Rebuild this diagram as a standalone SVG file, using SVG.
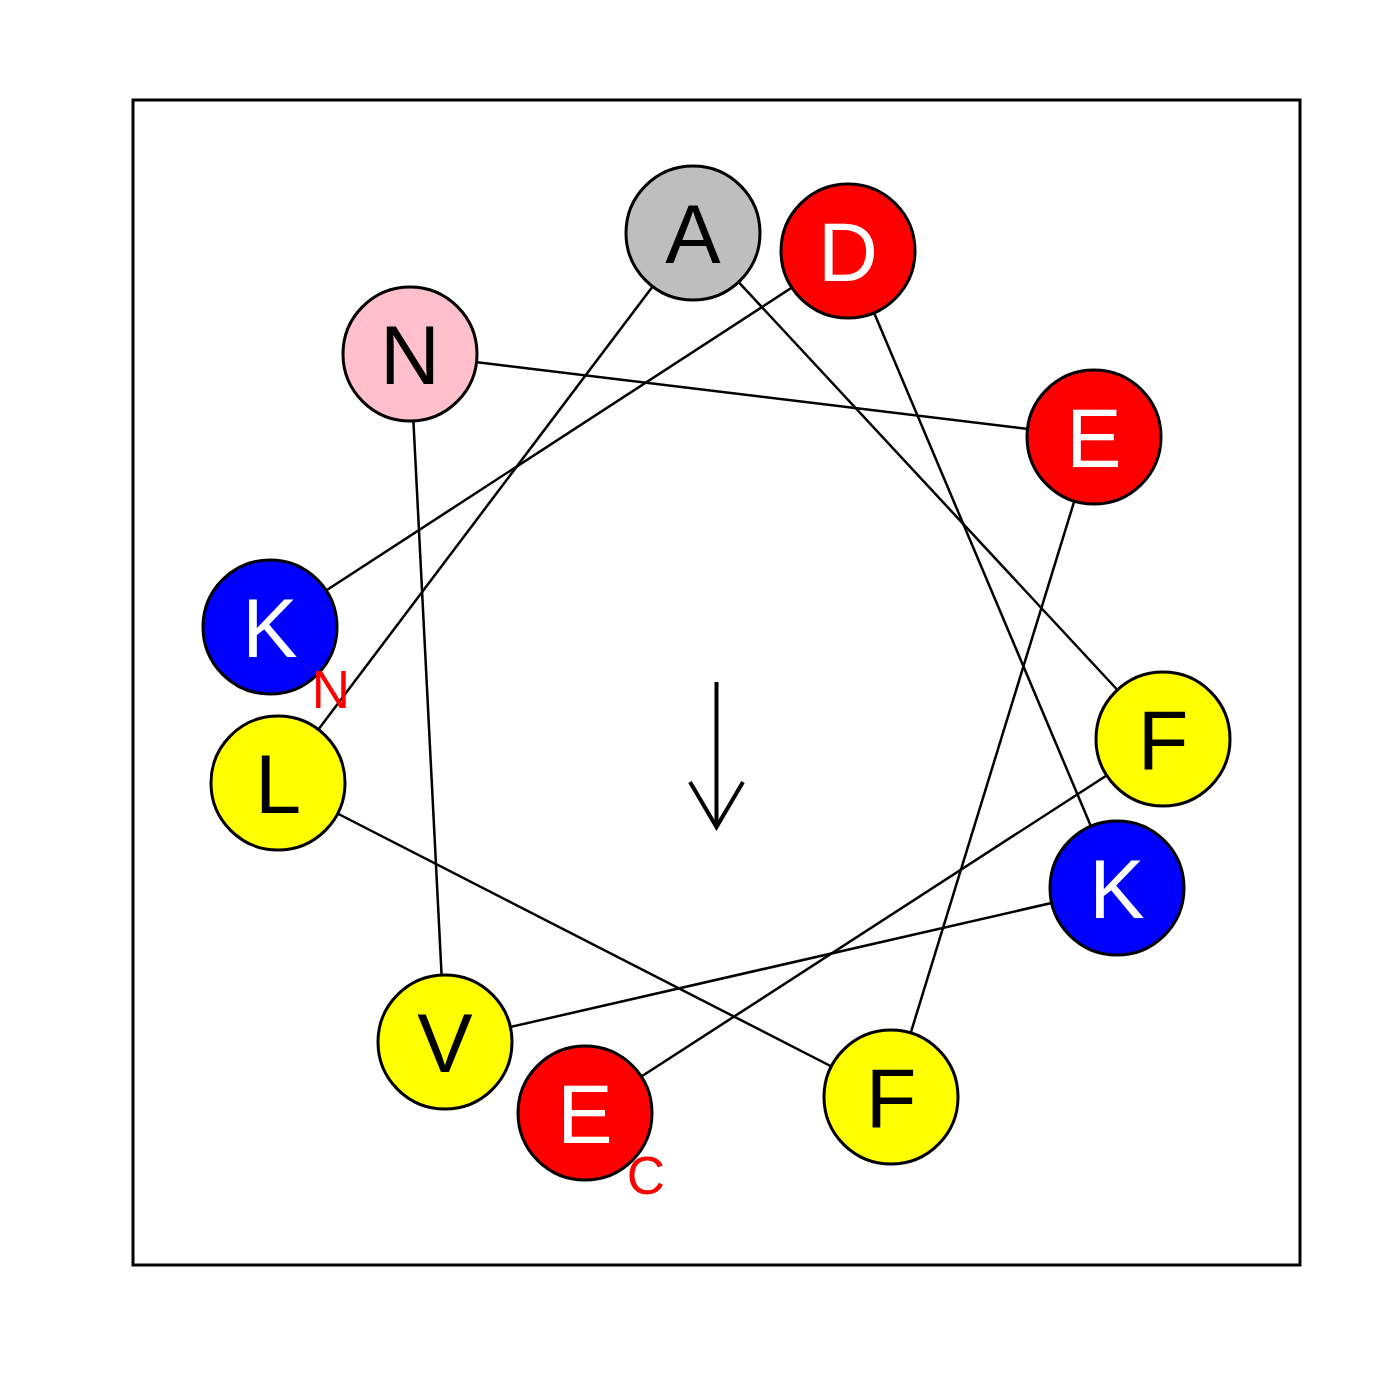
<svg xmlns="http://www.w3.org/2000/svg" width="1400" height="1400" viewBox="0 0 1400 1400">
<style>
.res{stroke:#000;stroke-width:3}
.lt{font-family:"Liberation Sans",Arial,sans-serif;font-size:83px;text-anchor:middle}
.term{font-family:"Liberation Sans",Arial,sans-serif;font-size:53px;text-anchor:middle;fill:#ff0000}
.conn line{stroke:#000;stroke-width:2.5}
</style>
<rect x="0" y="0" width="1400" height="1400" fill="#fff"/>
<rect x="133" y="100" width="1167" height="1165" fill="none" stroke="#000" stroke-width="3"/>
<g id="connectors" class="conn">
<line x1="270" y1="627" x2="848" y2="251"/>
<line x1="848" y1="251" x2="1117" y2="888"/>
<line x1="1117" y1="888" x2="445" y2="1042"/>
<line x1="445" y1="1042" x2="410" y2="354"/>
<line x1="410" y1="354" x2="1094" y2="437"/>
<line x1="1094" y1="437" x2="891" y2="1097"/>
<line x1="891" y1="1097" x2="278" y2="783"/>
<line x1="278" y1="783" x2="693" y2="233"/>
<line x1="693" y1="233" x2="1163" y2="739"/>
<line x1="1163" y1="739" x2="585" y2="1113"/>
</g>
<g id="arrow" stroke="#000" stroke-width="4" fill="none">
<line x1="716.5" y1="682" x2="716.5" y2="826"/>
<polyline points="690,782 716.5,827 743,782"/>
</g>
<g id="n1"><circle class="res" cx="270" cy="627" r="67" fill="#0000ff"/><text class="lt" x="270" y="657" fill="#fff">K</text></g>
<g id="n2"><circle class="res" cx="848" cy="251" r="67" fill="#ff0000"/><text class="lt" x="848" y="281" fill="#fff">D</text></g>
<g id="n3"><circle class="res" cx="1117" cy="888" r="67" fill="#0000ff"/><text class="lt" x="1117" y="918" fill="#fff">K</text></g>
<g id="n4"><circle class="res" cx="445" cy="1042" r="67" fill="#ffff00"/><text class="lt" x="445" y="1072" fill="#000">V</text></g>
<g id="n5"><circle class="res" cx="410" cy="354" r="67" fill="#ffc0cb"/><text class="lt" x="410" y="384" fill="#000">N</text></g>
<g id="n6"><circle class="res" cx="1094" cy="437" r="67" fill="#ff0000"/><text class="lt" x="1094" y="467" fill="#fff">E</text></g>
<g id="n7"><circle class="res" cx="891" cy="1097" r="67" fill="#ffff00"/><text class="lt" x="891" y="1127" fill="#000">F</text></g>
<g id="n8"><circle class="res" cx="278" cy="783" r="67" fill="#ffff00"/><text class="lt" x="278" y="813" fill="#000">L</text></g>
<g id="n9"><circle class="res" cx="693" cy="233" r="67" fill="#bebebe"/><text class="lt" x="693" y="263" fill="#000">A</text></g>
<g id="n10"><circle class="res" cx="1163" cy="739" r="67" fill="#ffff00"/><text class="lt" x="1163" y="769" fill="#000">F</text></g>
<g id="n11"><circle class="res" cx="585" cy="1113" r="67" fill="#ff0000"/><text class="lt" x="585" y="1143" fill="#fff">E</text></g>
<text class="term" x="331" y="708">N</text>
<text class="term" x="646" y="1194">C</text>
</svg>
